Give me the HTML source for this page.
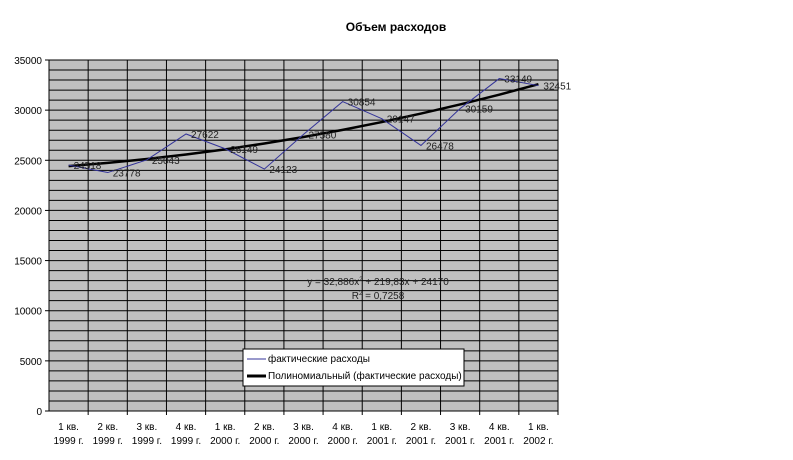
<!DOCTYPE html>
<html><head><meta charset="utf-8"><style>
body{margin:0;background:#fff;}
svg{display:block;font-family:"Liberation Sans",sans-serif;}
</style></head><body>
<svg id="chart" width="793" height="460">
<text x="396" y="31" text-anchor="middle" font-size="12" font-weight="bold">Объем расходов</text>
<rect x="49" y="60" width="509" height="351" fill="#c0c0c0"/>
<g id="grid"></g>
<g id="axes"></g>
<g id="series"></g>
<text x="378" y="285" text-anchor="middle" font-size="10" fill="#222">y = 32,886x<tspan font-size="6" dy="-4">2</tspan><tspan dy="4"> + 219,83x + 24170</tspan></text>
<text x="378" y="299" text-anchor="middle" font-size="10" fill="#222">R<tspan font-size="6" dy="-4">2</tspan><tspan dy="4"> = 0,7258</tspan></text>
<g>
<rect x="243" y="349" width="221" height="37" fill="#fff" stroke="#000" stroke-width="1"/>
<line x1="247" y1="359" x2="266" y2="359" stroke="#333399" stroke-width="1"/>
<text x="268" y="362" font-size="10">фактические расходы</text>
<line x1="247" y1="376" x2="266" y2="376" stroke="#000" stroke-width="3"/>
<text x="268" y="379" font-size="10">Полиномиальный (фактические расходы)</text>
</g>
</svg>
<script>
const categories=[["1 кв.","1999 г."],["2 кв.","1999 г."],["3 кв.","1999 г."],["4 кв.","1999 г."],["1 кв.","2000 г."],["2 кв.","2000 г."],["3 кв.","2000 г."],["4 кв.","2000 г."],["1 кв.","2001 г."],["2 кв.","2001 г."],["3 кв.","2001 г."],["4 кв.","2001 г."],["1 кв.","2002 г."]];
const values=[24518,23778,25043,27622,26149,24123,27580,30854,29147,26478,30159,33149,32451];
const trendCoef=[32.886,219.83,24170];
const yTicks=[0,5000,10000,15000,20000,25000,30000,35000];
const NS="http://www.w3.org/2000/svg";
const L=49,R=558,T=60,B=411,yMax=35000;
const n=categories.length,bw=(R-L)/n;
const xc=i=>L+bw*(i+0.5);
const ys=v=>B-(v/yMax)*(B-T);
function mk(t,a,p){const e=document.createElementNS(NS,t);for(const k in a)e.setAttribute(k,a[k]);p.appendChild(e);return e;}
const grid=document.getElementById('grid'),axes=document.getElementById('axes'),ser=document.getElementById('series');
for(let v=1000;v<=yMax;v+=1000){const l=mk('line',{x1:L,x2:R,y1:ys(v),y2:ys(v),stroke:'#000','stroke-width':1},grid);

}
for(let i=1;i<=n;i++){const l=mk('line',{x1:L+bw*i,x2:L+bw*i,y1:T,y2:B,stroke:'#000','stroke-width':1},grid);

}
mk('line',{x1:L,x2:L,y1:T,y2:B,stroke:'#000'},axes);
mk('line',{x1:L,x2:R,y1:B,y2:B,stroke:'#000'},axes);
yTicks.forEach(v=>{mk('line',{x1:L-4,x2:L,y1:ys(v),y2:ys(v),stroke:'#000'},axes);
const t=mk('text',{x:L-7,y:ys(v)+4,'text-anchor':'end','font-size':10},axes);t.textContent=v;

});
categories.forEach((c,i)=>{mk('line',{x1:L+bw*(i+1),x2:L+bw*(i+1),y1:B,y2:B+4,stroke:'#000'},axes);
c.forEach((s,j)=>{const t=mk('text',{x:xc(i),y:B+19+j*14,'text-anchor':'middle','font-size':10},axes);t.textContent=s;

});});
// trend
let pts=[];for(let i=0;i<n;i++){const x=i+1;pts.push(xc(i)+','+ys(trendCoef[0]*x*x+trendCoef[1]*x+trendCoef[2]));}
const tr=mk('polyline',{points:pts.join(' '),fill:'none',stroke:'#000','stroke-width':2.5},ser);


const ln=mk('polyline',{points:values.map((v,i)=>xc(i)+','+ys(v)).join(' '),fill:'none',stroke:'#333399','stroke-width':1},ser);


values.forEach((v,i)=>{const t=mk('text',{x:xc(i)+5,y:ys(v)+4,'font-size':10,fill:'#222'},ser);t.textContent=v;

});
</script>
</body></html>
